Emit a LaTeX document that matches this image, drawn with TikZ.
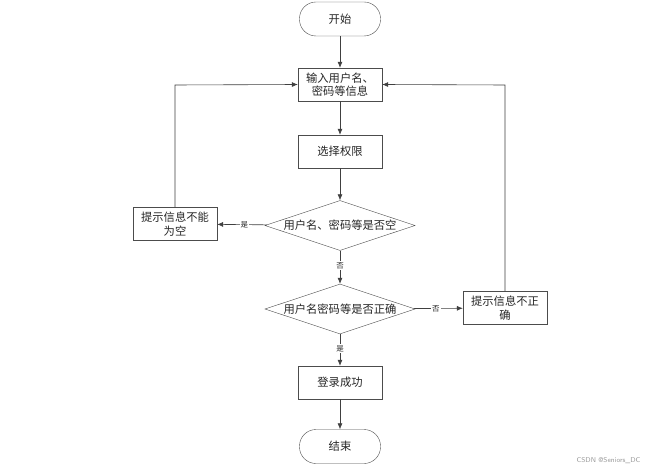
\documentclass[tikz,border=0pt]{standalone}
\usepackage{fontspec}
\newfontfamily\cjk{Noto Sans CJK SC}
\usetikzlibrary{shapes.geometric,arrows.meta}
\begin{document}
\begin{tikzpicture}[x=1pt,y=-1pt,
  every node/.style={font=\cjk\fontsize{11.3}{13.5}\selectfont, text=black!85},
  term/.style={draw=black!70, rounded corners=16.5pt, minimum width=81pt, minimum height=34pt, inner sep=0pt},
  procbox/.style={draw=black!70, minimum width=84pt, minimum height=33pt, inner sep=1pt, align=center, text width=80pt},
  decis/.style={draw=black!70, diamond, aspect=3.0, minimum width=150pt, minimum height=50pt, inner sep=0pt},
  conn/.style={draw=black!75, line width=0.6pt, -{Latex[length=6pt,width=5pt]}},
  lbl/.style={font=\cjk\fontsize{7.5}{8}\selectfont, fill=white, inner sep=1pt}]
\useasboundingbox (0,0) rectangle (650,470);
\fill[white] (0,0) rectangle (650,470);
\node[term] (start) at (340,19) {开始};
\node[procbox] (input) at (340,84.5) {输入用户名、\\密码等信息};
\node[procbox] (perm) at (340,151.5) {选择权限};
\node[decis] (d1) at (340,225.5) {用户名、密码等是否空};
\node[procbox] (empty) at (175,224) {提示信息不能\\为空};
\node[decis] (d2) at (340,309) {用户名密码等是否正确};
\node[procbox] (wrong) at (505,308) {提示信息不正\\确};
\node[procbox] (ok) at (340,382.5) {登录成功};
\node[term] (end) at (340,446.5) {结束};
\coordinate (lc) at (175,85);
\coordinate (rc) at (505,85);
\draw[conn] (start) -- (input);
\draw[conn] (input) -- (perm);
\draw[conn] (perm) -- (d1);
\draw[conn] (d1) -- node[lbl, pos=0.45] {是} (empty);
\draw[conn] (d1) -- node[lbl, pos=0.45] {否} (d2);
\draw[conn] (d2) -- node[lbl, pos=0.45] {否} (wrong);
\draw[conn] (d2) -- node[lbl, pos=0.45] {是} (ok);
\draw[conn] (ok) -- (end);
\draw[conn] (empty.north) -- (lc) -- (input.west);
\draw[conn] (wrong.north) -- (rc) -- (input.east);
\node[font=\fontsize{7}{8}\selectfont\sffamily, text=black!40, anchor=east] (wm) at (644,461) {CSDN @Seniors\_DC};
\end{tikzpicture}
\end{document}
